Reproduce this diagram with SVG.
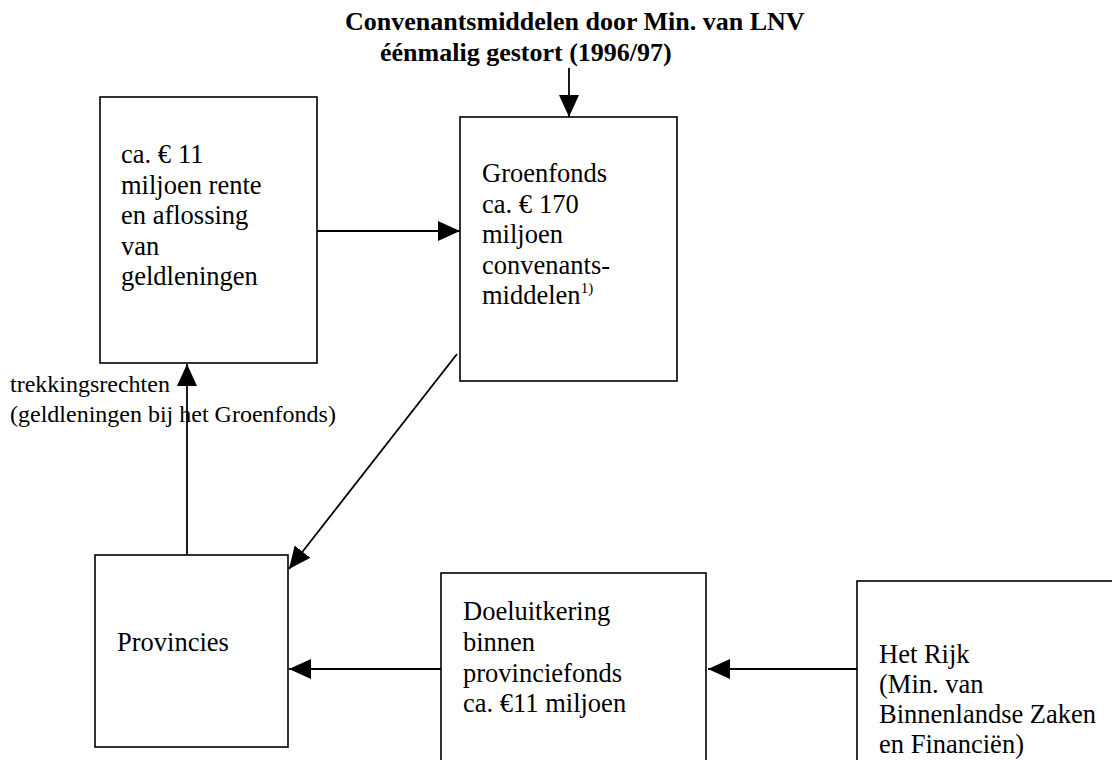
<svg xmlns="http://www.w3.org/2000/svg" width="1112" height="760" viewBox="0 0 1112 760">
<style>
.box{fill:#fff;stroke:#000;stroke-width:1.6}
.t{font-family:"Liberation Serif","Times New Roman",serif;font-size:26.5px;fill:#000}
.lbl{font-family:"Liberation Serif","Times New Roman",serif;font-size:24px;fill:#000}
.title{font-family:"Liberation Serif","Times New Roman",serif;font-size:26px;font-weight:bold;fill:#000}
.c{stroke:#000;stroke-width:1.8;fill:none;marker-end:url(#ah)}
</style>
<defs>
<marker id="ah" markerUnits="userSpaceOnUse" markerWidth="22" markerHeight="20" refX="22" refY="10" orient="auto" viewBox="0 0 22 20">
<path d="M0,0 L22,10 L0,20 z" fill="#000"/>
</marker>
</defs>
<rect width="1112" height="760" fill="#fff"/>
<g id="title">
<text class="title" x="345" y="30">Convenantsmiddelen door Min. van LNV</text>
<text class="title" x="380" y="61">éénmalig gestort (1996/97)</text>
</g>
<g id="rente">
<rect class="box" x="100" y="97" width="217" height="266"/>
<text class="t" x="121" y="163">ca. €<tspan dx="7">11</tspan></text>
<text class="t" x="121" y="194">miljoen rente</text>
<text class="t" x="121" y="224">en aflossing</text>
<text class="t" x="121" y="255">van</text>
<text class="t" x="121" y="285">geldleningen</text>
</g>
<g id="groenfonds">
<rect class="box" x="460" y="117" width="217" height="264"/>
<text class="t" x="482" y="182">Groenfonds</text>
<text class="t" x="482" y="212.5">ca. €<tspan dx="7">170</tspan></text>
<text class="t" x="482" y="243">miljoen</text>
<text class="t" x="482" y="273.5">convenants-</text>
<text class="t" x="482" y="304">middelen<tspan font-size="15" dy="-11">1)</tspan></text>
</g>
<g id="provincies">
<rect class="box" x="95" y="555" width="193" height="192"/>
<text class="t" x="117" y="651">Provincies</text>
</g>
<g id="doeluitkering">
<rect class="box" x="441" y="573" width="265" height="200"/>
<text class="t" x="463" y="620">Doeluitkering</text>
<text class="t" x="463" y="651">binnen</text>
<text class="t" x="463" y="682">provinciefonds</text>
<text class="t" x="463" y="712">ca. €11 miljoen</text>
</g>
<g id="rijk">
<rect class="box" x="857" y="581" width="270" height="200"/>
<text class="t" x="879" y="663">Het Rijk</text>
<text class="t" x="879" y="693">(Min. van</text>
<text class="t" x="879" y="723">Binnenlandse Zaken</text>
<text class="t" x="879" y="753">en Financiën)</text>
</g>
<g id="connectors">
<line class="c" x1="569" y1="68" x2="569" y2="117"/>
<line class="c" x1="317" y1="231" x2="460" y2="231"/>
<line class="c" x1="457" y1="354" x2="289" y2="569"/>
<line class="c" x1="187" y1="555" x2="187" y2="364"/>
<line class="c" x1="441" y1="669" x2="289" y2="669"/>
<line class="c" x1="857" y1="669" x2="708" y2="669"/>
</g>
<g id="label">
<text class="lbl" x="10" y="392">trekkingsrechten</text>
<text class="lbl" x="10" y="422">(geldleningen bij het Groenfonds)</text>
</g>
</svg>
